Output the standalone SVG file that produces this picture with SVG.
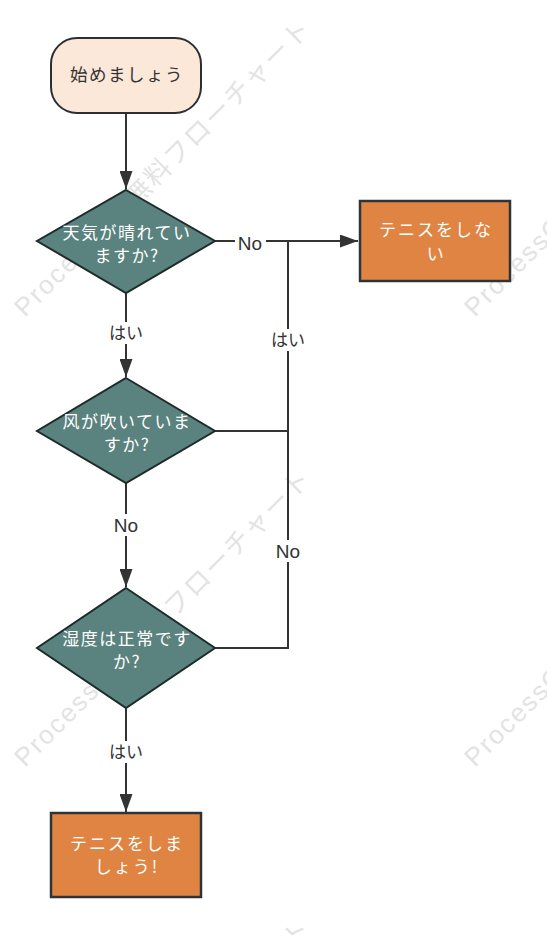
<svg xmlns="http://www.w3.org/2000/svg" width="547" height="935" viewBox="0 0 547 935">
<defs>
<style>
.wm{font-family:"Liberation Sans","Noto Sans CJK JP",sans-serif;font-size:26px;letter-spacing:2px;fill:#e3e3e3}
.t{font-family:"Noto Sans CJK JP","Liberation Sans",sans-serif;font-size:17px;letter-spacing:1.5px;text-anchor:middle}
.dk{fill:#333333}
.wh{fill:#ffffff}
.lbl{font-family:"Liberation Sans","Noto Sans CJK JP",sans-serif;font-size:19px;fill:#333333;text-anchor:middle}
.lblj{font-family:"Noto Sans CJK JP","Liberation Sans",sans-serif;font-size:17px;fill:#333333;text-anchor:middle}
.ln{fill:none;stroke:#333333;stroke-width:2}
.dia{fill:#5a827e;stroke:#1f2b2b;stroke-width:2}
.box{fill:#e08443;stroke:#2f3438;stroke-width:2.5}
.bg{fill:#ffffff}
</style>
<marker id="ah" viewBox="0 0 18 13" refX="18" refY="6.5" markerWidth="18" markerHeight="13" markerUnits="userSpaceOnUse" orient="auto">
<path d="M0,0 L18,6.5 L0,13 Z" fill="#333333"/>
</marker>
</defs>
<rect width="547" height="935" fill="#ffffff"/>
<g id="watermarks">
<text class="wm" transform="rotate(-45 25 318)" x="25" y="318">ProcessOn 無料フローチャート</text>
<text class="wm" transform="rotate(-45 475 318)" x="475" y="318">ProcessOn 無料フローチャート</text>
<text class="wm" transform="rotate(-45 25 768)" x="25" y="768">ProcessOn 無料フローチャート</text>
<text class="wm" transform="rotate(-45 475 768)" x="475" y="768">ProcessOn 無料フローチャート</text>
<text class="wm" transform="rotate(-45 25 1218)" x="25" y="1218">ProcessOn 無料フローチャート</text>
</g>
<g id="connectors">
<line class="ln" x1="126" y1="113" x2="126" y2="189" marker-end="url(#ah)"/>
<polyline class="ln" points="215,241 287,241"/>
<line class="ln" x1="287" y1="241" x2="358" y2="241" stroke-width="2.8" marker-end="url(#ah)"/>
<line class="ln" x1="126" y1="293" x2="126" y2="377" marker-end="url(#ah)"/>
<polyline class="ln" points="215,431 288,431 288,241"/>
<line class="ln" x1="126" y1="483" x2="126" y2="587" marker-end="url(#ah)"/>
<polyline class="ln" points="215,648 288,648 288,241"/>
<line class="ln" x1="126" y1="708" x2="126" y2="812" marker-end="url(#ah)"/>
<rect class="bg" x="235" y="231" width="31" height="22"/>
<text class="lbl" x="250" y="250">No</text>
<rect class="bg" x="106" y="322" width="40" height="22"/>
<text class="lblj" x="126" y="339">はい</text>
<rect class="bg" x="268" y="329" width="40" height="22"/>
<text class="lblj" x="288" y="346">はい</text>
<rect class="bg" x="110" y="514" width="32" height="22"/>
<text class="lbl" x="126" y="532">No</text>
<rect class="bg" x="272" y="540" width="32" height="22"/>
<text class="lbl" x="288" y="558">No</text>
<rect class="bg" x="106" y="741" width="40" height="22"/>
<text class="lblj" x="126" y="758">はい</text>
</g>
<g id="start">
<rect x="51" y="38" width="150" height="75" rx="26" ry="26" fill="#fce8d9" stroke="#2b2f33" stroke-width="2"/>
<text class="t dk" x="127" y="81" style="font-size:17.5px">始めましょう</text>
</g>
<g id="q1">
<polygon class="dia" points="126,190 215,241 126,293 37,241"/>
<text class="t wh" x="127" y="239">天気が晴れてい</text>
<text class="t wh" x="127" y="262">ますか?</text>
</g>
<g id="no-tennis">
<rect class="box" x="360" y="201" width="150" height="80"/>
<text class="t wh" x="436" y="236" style="letter-spacing:2px">テニスをしな</text>
<text class="t wh" x="436" y="260">い</text>
</g>
<g id="q2">
<polygon class="dia" points="126,378 215,431 126,483 37,431"/>
<text class="t wh" x="127" y="428">风が吹いていま</text>
<text class="t wh" x="127" y="451">すか?</text>
</g>
<g id="q3">
<polygon class="dia" points="126,588 215,648 126,708 37,648"/>
<text class="t wh" x="127" y="645">湿度は正常です</text>
<text class="t wh" x="127" y="668">か?</text>
</g>
<g id="tennis">
<rect class="box" x="51" y="813" width="150" height="84"/>
<text class="t wh" x="127" y="850" style="letter-spacing:2px">テニスをしま</text>
<text class="t wh" x="127" y="873" style="letter-spacing:2px">しょう!</text>
</g>
</svg>
